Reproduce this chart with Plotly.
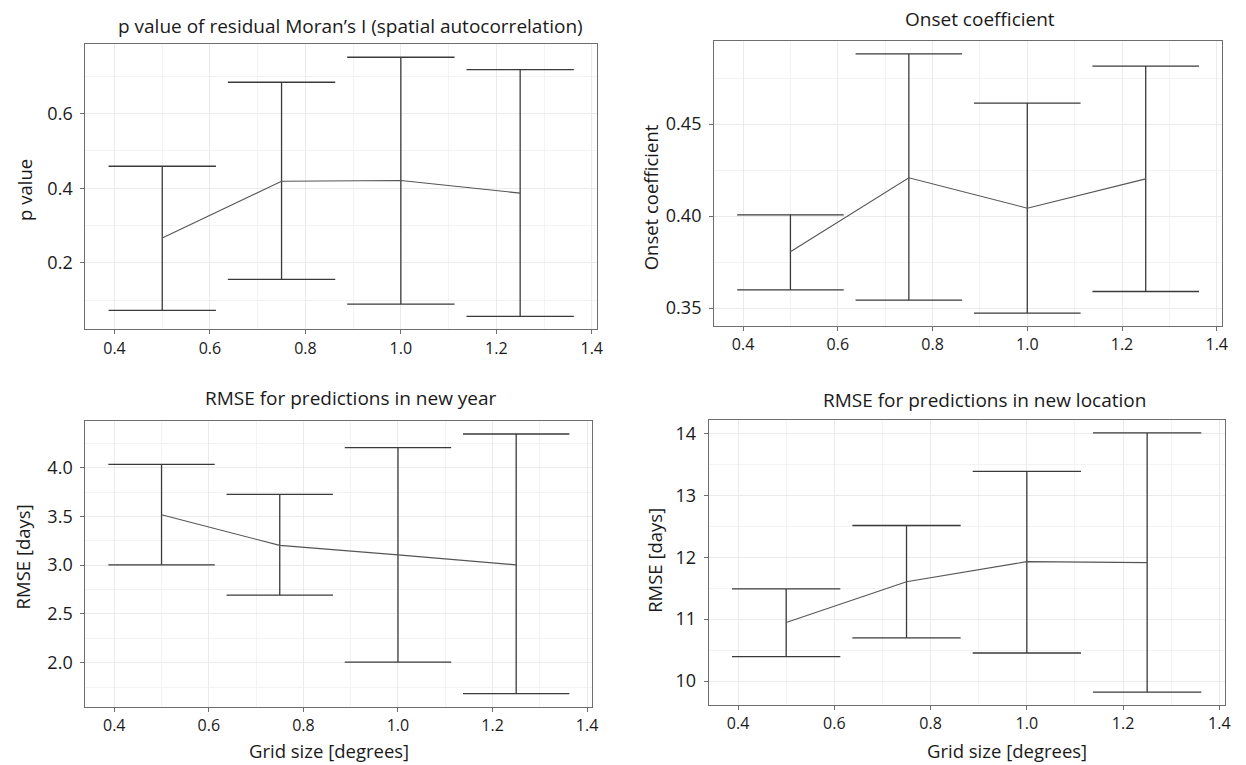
import plotly.graph_objects as go

# Grid sizes (degrees) used for the model runs
grid_size = [0.5, 0.75, 1.0, 1.25]

# p value of residual Moran's I: mean and range over runs
moran_mean = [0.267, 0.419, 0.421, 0.387]
moran_lo = [0.073, 0.156, 0.090, 0.057]
moran_hi = [0.459, 0.684, 0.751, 0.718]

# Onset coefficient
onset_mean = [0.3806, 0.4208, 0.4043, 0.4202]
onset_lo = [0.3599, 0.3543, 0.3473, 0.3590]
onset_hi = [0.4007, 0.4881, 0.4614, 0.4815]

# RMSE for predictions in a new year (days)
year_mean = [3.517, 3.203, 3.106, 3.003]
year_lo = [3.003, 2.692, 2.006, 1.682]
year_hi = [4.034, 3.726, 4.205, 4.345]

# RMSE for predictions in a new location (days)
loc_mean = [10.945, 11.606, 11.930, 11.914]
loc_lo = [10.394, 10.697, 10.453, 9.822]
loc_hi = [11.490, 12.514, 13.390, 14.010]

panel_titles = [
    "p value of residual Moran’s I (spatial autocorrelation)",
    "Onset coefficient",
    "RMSE for predictions in new year",
    "RMSE for predictions in new location",
]
y_titles = ["p value", "Onset coefficient", "RMSE [days]", "RMSE [days]"]
x_title = "Grid size [degrees]"

W, H = 1246, 765
FONT = "Open Sans"
BAR_W = 0.225          # errorbar cap width in x units
EXPAND = 0.05          # axis padding as a share of the data span

# panel frames in pixels: (left, right, top, bottom)
frames = [
    (85.7, 600.0, 44.3, 329.3),
    (717.5, 1228.0, 41.0, 326.0),
    (85.7, 595.3, 421.0, 706.7),
    (712.0, 1230.7, 420.0, 705.0),
]
y_fmt = [".1f", ".2f", ".1f", "d"]
y_dtick = [0.2, 0.05, 0.5, 1]
y_tick0 = [0.2, 0.35, 2.0, 10]

series = [
    (moran_mean, moran_lo, moran_hi),
    (onset_mean, onset_lo, onset_hi),
    (year_mean, year_lo, year_hi),
    (loc_mean, loc_lo, loc_hi),
]

fig = go.Figure()
layout = {}


def padded(lo, hi):
    span = hi - lo
    return [lo - EXPAND * span, hi + EXPAND * span]


for i, (mean, lo, hi) in enumerate(series):
    n = i + 1
    xa = "x" if n == 1 else f"x{n}"
    ya = "y" if n == 1 else f"y{n}"

    # error bars: vertical stem plus caps at both ends
    ex, ey = [], []
    for x, a, b in zip(grid_size, lo, hi):
        ex += [x, x, None, x - BAR_W / 2, x + BAR_W / 2, None, x - BAR_W / 2, x + BAR_W / 2, None]
        ey += [a, b, None, a, a, None, b, b, None]
    fig.add_trace(go.Scatter(x=ex, y=ey, mode="lines", xaxis=xa, yaxis=ya,
                             line=dict(color="#3a3a3a", width=1.3),
                             hoverinfo="skip", showlegend=False))
    # mean line
    fig.add_trace(go.Scatter(x=grid_size, y=mean, mode="lines", xaxis=xa, yaxis=ya,
                             line=dict(color="#555555", width=1.1),
                             showlegend=False))

    l, r, t, b = frames[i]
    xr = padded(min(grid_size) - BAR_W / 2, max(grid_size) + BAR_W / 2)
    yr = padded(min(lo), max(hi))

    axis_common = dict(
        showline=True, mirror=True, linecolor="#6e6e6e", linewidth=1,
        ticks="outside", ticklen=4, tickcolor="#6e6e6e", tickwidth=1,
        showgrid=True, gridcolor="#ebebeb", gridwidth=1, zeroline=False,
    )
    layout["xaxis" if n == 1 else f"xaxis{n}"] = dict(
        axis_common, domain=[l / W, r / W], range=xr, anchor=ya,
        tick0=0.4, dtick=0.2, tickformat=".1f",
        minor=dict(dtick=0.1, tick0=0.4, showgrid=True, gridcolor="#f3f3f3", ticks=""),
        tickfont=dict(family=FONT, size=16, color="#1a1a1a"),
    )
    layout["yaxis" if n == 1 else f"yaxis{n}"] = dict(
        axis_common, domain=[1 - b / H, 1 - t / H], range=yr, anchor=xa,
        tick0=y_tick0[i], dtick=y_dtick[i], tickformat=y_fmt[i],
        minor=dict(dtick=y_dtick[i] / 2, tick0=y_tick0[i], showgrid=True,
                   gridcolor="#f3f3f3", ticks=""),
        tickfont=dict(family=FONT, size=18, color="#1a1a1a"),
        ticklabelstandoff=4,
    )

# text positions in pixels: (x, y)
title_pos = [(352, 26), (985, 19), (353, 398), (989, 399.5)]
ytitle_pos = [(24, 190), (654, 197.5), (23, 556.5), (657, 560)]
xtitle_x = [331, 1012]

annotations = []
for (px, py), txt in zip(title_pos, panel_titles):
    annotations.append(dict(text=txt, x=px / W, y=1 - py / H, xref="paper", yref="paper",
                            xanchor="center", yanchor="middle", showarrow=False,
                            font=dict(family=FONT, size=19, color="#1a1a1a")))
for (px, py), txt in zip(ytitle_pos, y_titles):
    annotations.append(dict(text=txt, x=px / W, y=1 - py / H, xref="paper", yref="paper",
                            xanchor="center", yanchor="middle", showarrow=False, textangle=-90,
                            font=dict(family=FONT, size=18.5, color="#1a1a1a")))
for px in xtitle_x:
    # x-axis titles sit along the bottom edge of the figure
    annotations.append(dict(text=x_title, x=px / W, y=1.5 / H, xref="paper", yref="paper",
                            xanchor="center", yanchor="bottom", showarrow=False,
                            borderpad=0,
                            font=dict(family=FONT, size=18.5, color="#1a1a1a")))

fig.update_layout(
    **layout,
    annotations=annotations,
    width=W, height=H,
    margin=dict(l=0, r=0, t=0, b=0),
    paper_bgcolor="white", plot_bgcolor="white",
    font=dict(family=FONT, color="#1a1a1a"),
    showlegend=False,
)

fig.write_html("out.html")
